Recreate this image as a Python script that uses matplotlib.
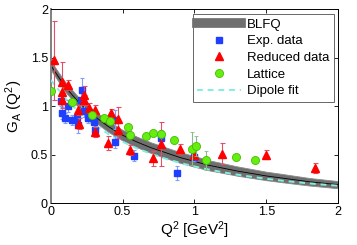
import matplotlib
matplotlib.use("Agg")
import matplotlib.pyplot as plt
from matplotlib.lines import Line2D

plt.rcParams['font.family'] = ['Liberation Sans', 'DejaVu Sans']
plt.rcParams['mathtext.fontset'] = 'custom'
plt.rcParams['mathtext.rm'] = 'Liberation Sans'
plt.rcParams['mathtext.it'] = 'Liberation Sans'

# curves
q2_curve = [0.0, 0.1, 0.2, 0.3, 0.4, 0.5, 0.6, 0.7, 0.8, 0.9, 1.0,
            1.1, 1.2, 1.3, 1.4, 1.5, 1.6, 1.7, 1.8, 1.9, 2.0]
blfq_mid = [1.42, 1.20, 1.03, 0.90, 0.79, 0.70, 0.63, 0.57, 0.52, 0.47, 0.43,
            0.39, 0.36, 0.33, 0.305, 0.28, 0.26, 0.24, 0.22, 0.205, 0.19]
blfq_half = [0.045, 0.05, 0.05, 0.055, 0.055, 0.055, 0.055, 0.055, 0.055, 0.055, 0.055,
             0.052, 0.05, 0.048, 0.046, 0.044, 0.043, 0.041, 0.039, 0.038, 0.037]
dipole = [1.27, 1.082, 0.933, 0.813, 0.714, 0.633, 0.564, 0.507, 0.457, 0.415, 0.378,
          0.346, 0.318, 0.293, 0.271, 0.251, 0.233, 0.217, 0.203, 0.190, 0.179]

# experimental data (blue squares)
exp_x = [0.07, 0.08, 0.10, 0.12, 0.15, 0.18, 0.19, 0.21, 0.22, 0.23, 0.26,
         0.30, 0.31, 0.45, 0.45, 0.58, 0.77, 0.88, 1.00]
exp_y = [1.05, 0.93, 0.88, 1.00, 0.86, 0.88, 0.80, 1.06, 1.17, 0.95, 0.88,
         0.84, 0.75, 0.86, 0.63, 0.49, 0.67, 0.31, 0.48]
exp_err = [0.05, 0.06, 0.05, 0.06, 0.05, 0.05, 0.08, 0.10, 0.12, 0.06, 0.05,
           0.06, 0.06, 0.10, 0.06, 0.06, 0.08, 0.07, 0.05]

# reduced data (red triangles)
red_x = [0.02, 0.08, 0.08, 0.12, 0.08, 0.19, 0.20, 0.23, 0.23, 0.27, 0.31, 0.31,
         0.40, 0.42, 0.47, 0.47, 0.55, 0.71, 0.77, 0.90, 1.00, 1.19, 1.50, 1.84]
red_y = [1.47, 1.25, 1.15, 1.22, 1.06, 0.96, 0.82, 1.11, 1.06, 0.98, 0.96, 0.73,
         0.62, 0.93, 0.87, 0.75, 0.55, 0.46, 0.61, 0.56, 0.50, 0.51, 0.50, 0.36]
red_err = [0.41, 0.20, 0.10, 0.05, 0.08, 0.05, 0.06, 0.10, 0.05, 0.05, 0.05, 0.05,
           0.07, 0.04, 0.12, 0.08, 0.05, 0.08, 0.23, 0.05, 0.05, 0.11, 0.05, 0.05]

# lattice (green circles)
lat_x = [0.0, 0.15, 0.29, 0.37, 0.41, 0.54, 0.55, 0.66, 0.71, 0.77, 0.86,
         0.98, 1.01, 1.08, 1.29, 1.42]
lat_y = [1.16, 1.04, 0.91, 0.88, 0.85, 0.78, 0.70, 0.69, 0.72, 0.71, 0.65,
         0.56, 0.59, 0.44, 0.48, 0.44]
lat_err = [0.03, 0.02, 0.02, 0.02, 0.02, 0.03, 0.03, 0.02, 0.02, 0.02, 0.03,
           0.17, 0.10, 0.10, 0.02, 0.02]

fig = plt.figure(figsize=(3.57, 2.45), dpi=100)
ax = fig.add_axes([0.142, 0.171, 0.805, 0.792])

lo = [m - h for m, h in zip(blfq_mid, blfq_half)]
hi = [m + h for m, h in zip(blfq_mid, blfq_half)]
ax.fill_between(q2_curve, lo, hi, color='#6f6f6f', lw=0.6, edgecolor='#8a8a8a', zorder=1)
ax.plot(q2_curve, blfq_mid, color='black', lw=0.6, zorder=2)

ax.errorbar(exp_x, exp_y, yerr=exp_err, fmt='s', ms=3.8, color='#1f3fff',
            ecolor='#7f9fff', elinewidth=0.8, capsize=1.5, capthick=0.8, zorder=4)
ax.errorbar(red_x, red_y, yerr=red_err, fmt='^', ms=6, color='red',
            ecolor='#e0506a', elinewidth=0.8, capsize=1.8, capthick=0.8, zorder=5)
ax.errorbar(lat_x, lat_y, yerr=lat_err, fmt='o', ms=5.8, mfc='#66ee11', mec='#44bb00',
            mew=0.6, ecolor='#88bb88', elinewidth=0.8, capsize=1.5, capthick=0.8, zorder=6)

ax.plot(q2_curve, dipole, color='#7fefdf', lw=1.4, dashes=(3, 2.5), zorder=3)

ax.set_xlim(0, 2)
ax.set_ylim(0, 2)
ax.set_xticks([0, 0.5, 1, 1.5, 2])
ax.set_yticks([0, 0.5, 1, 1.5, 2])
ax.set_xticklabels(['0', '0.5', '1', '1.5', '2'])
ax.set_yticklabels(['0', '0.5', '1', '1.5', '2'])
ax.tick_params(direction='in', length=3, width=0.6, top=True, right=True,
               labelsize=9, pad=2)
for s in ['top', 'right', 'bottom']:
    ax.spines[s].set_linewidth(0.7)
ax.spines['left'].set_color('#808080')
ax.spines['left'].set_linewidth(1.4)

ax.set_xlabel(r'Q$^2$ [GeV$^2$]', fontsize=11, labelpad=1)
ax.set_ylabel(r'G$_A$ (Q$^2$)', fontsize=11, labelpad=4)

handles = [
    Line2D([], [], color='#6f6f6f', lw=7),
    Line2D([], [], marker='s', ls='', ms=3.8, color='#1f3fff'),
    Line2D([], [], marker='^', ls='', ms=6, color='red'),
    Line2D([], [], marker='o', ls='', ms=5.8, mfc='#66ee11', mec='#44bb00', mew=0.6),
    Line2D([], [], color='#7fefdf', lw=1.4, dashes=(3, 2.5)),
]
labels = ['BLFQ', 'Exp. data', 'Reduced data', 'Lattice', 'Dipole fit']
leg = ax.legend(handles, labels, loc='upper right', bbox_to_anchor=(0.985, 0.975),
                fontsize=9.5, frameon=True, fancybox=False, handlelength=3.3,
                handletextpad=0.45, labelspacing=0.33, borderpad=0.35, borderaxespad=0)
leg.get_frame().set_edgecolor('#404040')
leg.get_frame().set_linewidth(0.7)

fig.savefig('out.png', dpi=100)
